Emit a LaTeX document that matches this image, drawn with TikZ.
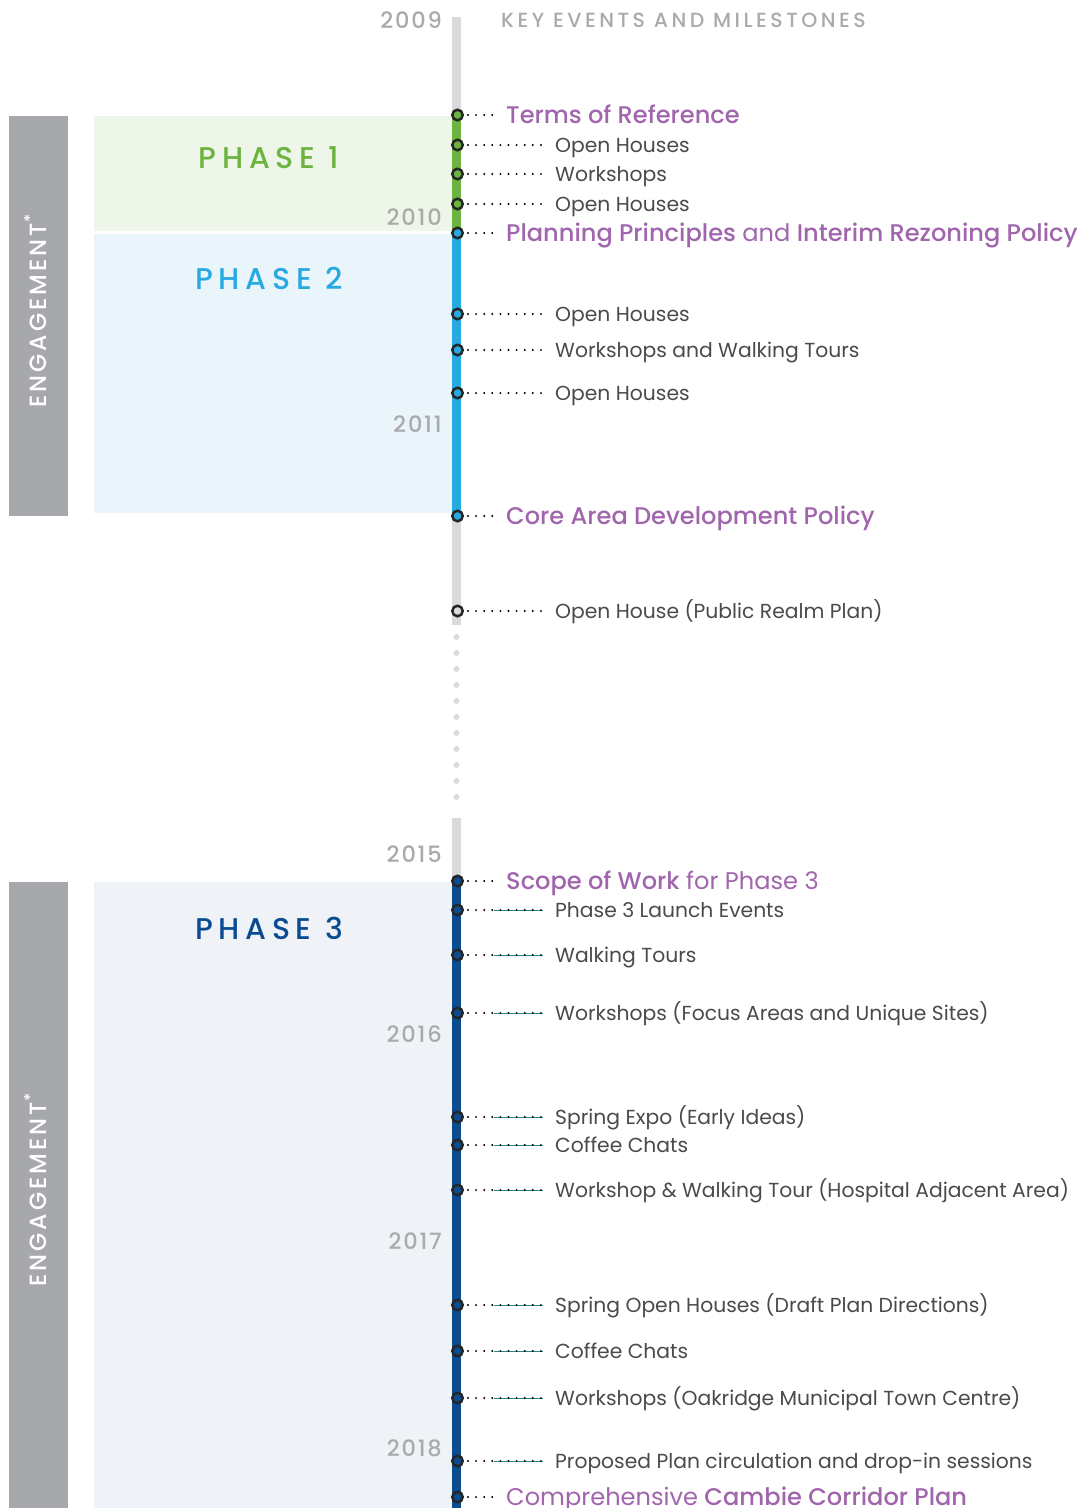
\documentclass[tikz,border=0pt]{standalone}
\usepackage{fontspec}
\setmainfont{Poppins}[BoldFont={Poppins Medium}]
\newfontfamily\phasefont[LetterSpace=19]{Poppins Medium}
\newfontfamily\headfont[LetterSpace=17]{Poppins Medium}
\newfontfamily\yearfont[LetterSpace=8]{Poppins Medium}
\newfontfamily\engfont[LetterSpace=13]{Poppins Medium}
\definecolor{barGray}{HTML}{D9DADC}
\definecolor{engGray}{HTML}{A7A8AB}
\definecolor{pGreen}{HTML}{6DB33F}
\definecolor{pBlue}{HTML}{27AAE1}
\definecolor{pNavy}{HTML}{0B4C91}
\definecolor{bgGreen}{HTML}{EEF6EA}
\definecolor{bgBlue}{HTML}{EAF4FB}
\definecolor{bgNavy}{HTML}{EFF3F8}
\definecolor{txtGray}{HTML}{4A4A4A}
\definecolor{yearGray}{HTML}{AAAAAA}
\definecolor{purp}{HTML}{A065AC}
\definecolor{tealLine}{HTML}{1F8A8A}
\tikzset{
  evdot/.style={circle, minimum size=10.5pt, inner sep=0pt, draw=black!85, line width=2.5pt},
  evtext/.style={inner sep=0pt, text=txtGray, font=\fontsize{20.3}{24}\selectfont},
  ttext/.style={inner sep=0pt, text=purp, font=\fontsize{24.1}{28}\selectfont},
  dotline/.style={line width=2.2pt, dash pattern=on 0pt off 8.1pt, line cap=round, shorten <=4pt},
  tealline/.style={line width=0.9pt, tealLine},
  year/.style={inner sep=0pt, text=yearGray, font=\yearfont\fontsize{22.5}{25}\selectfont, anchor=east},
  phase/.style={inner sep=0pt, font=\phasefont\fontsize{30}{34}\selectfont},
  engtext/.style={inner sep=0pt, text=white, font=\engfont\fontsize{23.5}{26}\selectfont, rotate=90, anchor=base west},
}
\newcommand\evN[4]{%
  \node[evdot,fill=#3] (d#2) at (457.5,#1) {};
  \coordinate (c#2) at (543,#1);
  \node[evtext,anchor=base west] (t#2) at (555,#1+7.3) {#4};
  \draw[dotline] (d#2.east) -- (c#2);
}
\newcommand\evP[4]{%
  \node[evdot,fill=#3] (d#2) at (457.5,#1) {};
  \coordinate (c#2) at (543,#1);
  \coordinate (s#2) at (494,#1);
  \node[evtext,anchor=base west] (t#2) at (555,#1+7.3) {#4};
  \draw[tealline] (s#2) -- (c#2);
  \draw[dotline] (d#2.east) -- (c#2);
}
\newcommand\evT[4]{%
  \node[evdot,fill=#3] (d#2) at (457.5,#1) {};
  \coordinate (c#2) at (495,#1);
  \node[ttext,anchor=base west] (t#2) at (506,#1+8.4) {#4};
  \draw[dotline] (d#2.east) -- (c#2);
}
\begin{document}
\begin{tikzpicture}[x=1pt,y=-1pt]
\useasboundingbox (0,0) rectangle (1084,1508);
% backgrounds
\fill[engGray] (9,116) rectangle (68,516);
\fill[engGray] (9,882) rectangle (68,1508);
\fill[bgGreen] (94,116) rectangle (452,231);
\fill[bgBlue] (94,234) rectangle (452,513);
\fill[bgNavy] (94,882) rectangle (452,1508);
% timeline
\fill[barGray] (452,17) rectangle (461,625);
\fill[pGreen] (452,115) rectangle (461,232);
\fill[pBlue] (452,232) rectangle (461,515);
\foreach \k in {0,...,10} \fill[barGray] (456.5,637+16*\k) circle (3pt);
\fill[barGray] (452,818) rectangle (461,880);
\fill[pNavy] (452,880) rectangle (461,1508);
% engagement labels
\node[engtext] (eng1) at (46,408) {ENGAGEMENT\textsuperscript{*}};
\node[engtext] (eng2) at (46,1287) {ENGAGEMENT\textsuperscript{*}};
% phases
\node[phase, text=pGreen] (ph1) at (269,158) {PHASE 1};
\node[phase, text=pBlue] (ph2) at (269,278) {PHASE 2};
\node[phase, text=pNavy] (ph3) at (269,928) {PHASE 3};
% years
\node[year] (y2009) at (442,20) {2009};
\node[year] (y2010) at (442,217) {2010};
\node[year] (y2011) at (442,424) {2011};
\node[year] (y2015) at (442,854) {2015};
\node[year] (y2016) at (442,1034) {2016};
\node[year] (y2017) at (442,1241) {2017};
\node[year] (y2018) at (442,1448) {2018};
% header
\node[inner sep=0pt, anchor=west, text=yearGray, font=\headfont\fontsize{20.5}{24}\selectfont] (hdr) at (501,20) {KEY EVENTS AND MILESTONES};
% events
\evT{115}{a}{pGreen}{\textbf{Terms of Reference}}
\evN{145}{b}{pGreen}{Open Houses}
\evN{174}{c}{pGreen}{Workshops}
\evN{204}{d}{pGreen}{Open Houses}
\evT{233}{e}{pBlue}{\textbf{Planning Principles} and \textbf{Interim Rezoning Policy}}
\evN{314}{f}{pBlue}{Open Houses}
\evN{350}{g}{pBlue}{Workshops and Walking Tours}
\evN{393}{h}{pBlue}{Open Houses}
\evT{516}{i}{pBlue}{\textbf{Core Area Development Policy}}
\evN{611}{j}{barGray}{Open House (Public Realm Plan)}
\evT{881}{k}{pNavy}{\textbf{Scope of Work} for Phase 3}
\evP{910}{l}{pNavy}{Phase 3 Launch Events}
\evP{955}{m}{pNavy}{Walking Tours}
\evP{1013}{n}{pNavy}{Workshops (Focus Areas and Unique Sites)}
\evP{1117}{o}{pNavy}{Spring Expo (Early Ideas)}
\evP{1145}{p}{pNavy}{Coffee Chats}
\evP{1190}{q}{pNavy}{Workshop \& Walking Tour (Hospital Adjacent Area)}
\evP{1305}{r}{pNavy}{Spring Open Houses (Draft Plan Directions)}
\evP{1351}{s}{pNavy}{Coffee Chats}
\evP{1398}{t}{pNavy}{Workshops (Oakridge Municipal Town Centre)}
\evP{1461}{u}{pNavy}{Proposed Plan circulation and drop-in sessions}
\evT{1497}{v}{pNavy}{Comprehensive \textbf{Cambie Corridor Plan}}
\end{tikzpicture}
\end{document}
